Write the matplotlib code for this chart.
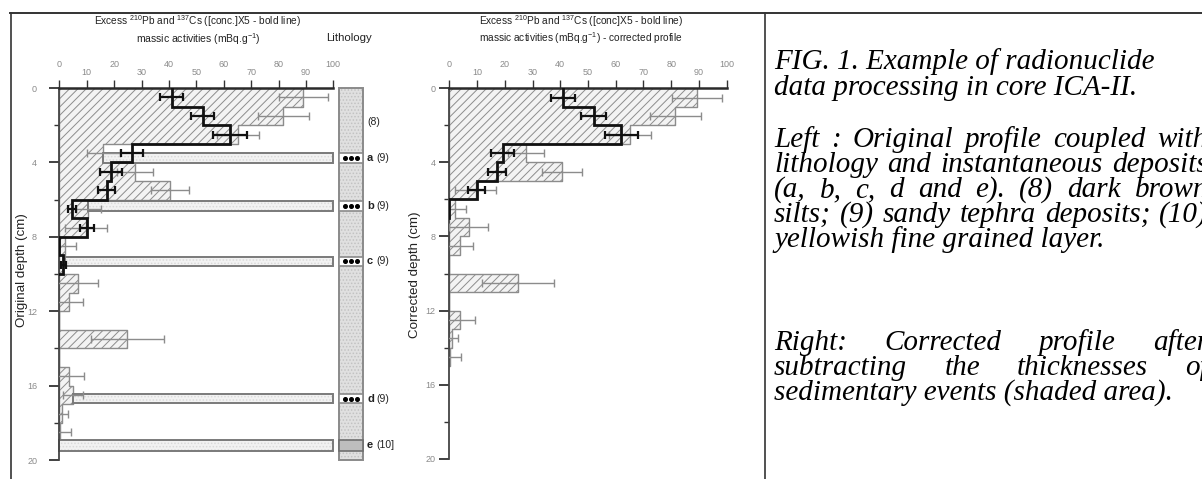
import numpy as np
import matplotlib
matplotlib.use("Agg")
import matplotlib.pyplot as plt
from matplotlib import font_manager
from matplotlib.patches import Rectangle

# ---- original profile (left panel), 1 cm slices from the core top
orig_top = np.arange(0, 19)
pb_orig = [89.0, 81.8, 65.3, 16.0, 27.6, 40.4, 10.6, 9.8, 2.0, 1.5,
           6.7, 3.7, 0.0, 24.8, 0.0, 3.7, 5.1, 0.9, 0.3]
pb_orig_err = [9.0, 9.3, 7.7, 6.0, 6.7, 7.1, 4.5, 7.6, 4.1, 0.0,
               7.4, 4.8, 0.0, 13.3, 0.0, 5.4, 3.7, 2.4, 3.9]
cs_orig_top = np.arange(0, 10)
cs_orig = [41.0, 52.3, 62.3, 26.4, 19.0, 17.3, 4.5, 10.0, 0.0, 1.5]
cs_orig_err = [4.2, 4.3, 6.1, 4.0, 4.0, 3.0, 1.5, 2.5, 0.0, 1.0]

# ---- instantaneous deposits (original depth, cm)
event_labels = ["a", "b", "c", "d", "e"]
event_units = ["(9)", "(9)", "(9)", "(9)", "(10]"]
event_top = [3.5, 6.05, 9.08, 16.45, 18.9]
event_bot = [4.05, 6.6, 9.55, 16.95, 19.5]
event_from = [16.0, 10.6, 2.0, 5.1, 0.0]

# ---- corrected profile (right panel)
corr_top = np.arange(0, 15)
pb_corr = [89.3, 81.5, 65.2, 27.7, 40.6, 9.5, 2.0, 7.0, 4.0, 0.0,
           24.9, 0.0, 4.0, 0.9, 0.3]
pb_corr_err = [9.0, 9.3, 7.5, 6.6, 7.2, 7.5, 4.0, 7.0, 4.5, 0.0,
               13.0, 0.0, 5.4, 2.4, 3.9]
cs_corr_top = np.arange(0, 7)
cs_corr = [41.0, 52.0, 62.0, 19.3, 17.1, 9.9, 0.0]
cs_corr_err = [4.2, 4.4, 6.0, 4.2, 3.3, 3.0, 0.0]

caption = [
    ("FIG. 1. Example of radionuclide", 62, False),
    ("data processing in core ICA-II.", 88, False),
    ("Left : Original profile coupled with", 140, True),
    ("lithology and instantaneous deposits", 165, True),
    ("(a, b, c, d and e). (8) dark brown", 190, True),
    ("silts; (9) sandy tephra deposits; (10)", 215, True),
    ("yellowish fine grained layer.", 240, False),
    ("Right:  Corrected  profile  after", 343, True),
    ("subtracting the thicknesses of", 368, True),
    ("sedimentary events (shaded area).", 393, False),
]

W, H = 1202, 479
names = {f.name for f in font_manager.fontManager.ttflist}
NARROW = "Liberation Sans Narrow" if "Liberation Sans Narrow" in names else "Liberation Sans"
SANS = ["Liberation Sans", "DejaVu Sans"]
plt.rcParams["font.family"] = [NARROW, "DejaVu Sans"]
plt.rcParams["mathtext.default"] = "regular"
plt.rcParams["hatch.linewidth"] = 0.7
plt.rcParams["hatch.color"] = "#8c8c8c"

fig = plt.figure(figsize=(W / 100, H / 100), dpi=100)
fig.patch.set_facecolor("white")


def fx(x):
    return x / W


def fy(y):
    return 1 - y / H


def px_axes(x0, y0, x1, y1):
    return fig.add_axes([x0 / W, 1 - y1 / H, (x1 - x0) / W, (y1 - y0) / H])


def steps(tops, vals):
    tops = np.asarray(tops, float)
    y = np.column_stack([tops, tops + 1]).ravel()
    x = np.repeat(np.asarray(vals, float), 2)
    return x, y


def stippled(ax, xy, w, h, face, dots, edge, lw, z=2):
    # flat fill with a faint dotted texture, then the outline on top
    ax.add_patch(Rectangle(xy, w, h, facecolor=face, edgecolor=dots, hatch=".....",
                           lw=0, zorder=z, clip_on=False))
    ax.add_patch(Rectangle(xy, w, h, facecolor="none", edgecolor=edge, lw=lw,
                           zorder=z, clip_on=False))


def profile(ax, pb_top, pb, pb_err, cs_top, cs, cs_err, ypad):
    ax.set_xlim(0, 100)
    ax.set_ylim(20, 0)
    for s in ["right", "bottom"]:
        ax.spines[s].set_visible(False)
    ax.spines["top"].set_linewidth(1.8)
    ax.spines["top"].set_color("#2a2a2a")
    ax.spines["left"].set_linewidth(1.3)
    ax.spines["left"].set_color("#444444")
    ax.xaxis.tick_top()
    ax.set_xticks(np.arange(0, 101, 20))
    ax.set_xticks(np.arange(10, 100, 20), minor=True)
    ax.set_xticklabels([str(v) for v in range(0, 101, 20)])
    ax.set_xticklabels([str(v) for v in range(10, 100, 20)], minor=True)
    ax.set_yticks(np.arange(0, 21, 4))
    ax.set_yticks(np.arange(2, 20, 4), minor=True)
    ax.tick_params(axis="x", which="major", length=5.5, width=1, pad=8.5,
                   labelsize=6.5, labelcolor="#8a8a8a", color="#333333")
    ax.tick_params(axis="x", which="minor", length=5.5, width=1, pad=2.5,
                   labelsize=6.5, labelcolor="#8a8a8a", color="#333333")
    ax.tick_params(axis="y", which="major", length=7, width=1.3, pad=ypad,
                   labelsize=6.5, labelcolor="#8a8a8a", color="#333333")
    ax.tick_params(axis="y", which="minor", length=3.5, width=1, color="#333333")

    x, y = steps(pb_top, pb)
    ax.fill_betweenx(y, 0, x, facecolor="#f3f3f3", edgecolor="#8c8c8c",
                     hatch="////", linewidth=1, zorder=1)

    pb_top = np.asarray(pb_top, float)
    pb = np.asarray(pb)
    pb_err = np.asarray(pb_err)
    m = pb_err > 0
    ax.errorbar(pb[m], pb_top[m] + 0.5, xerr=pb_err[m], fmt="none",
                ecolor="#8c8c8c", elinewidth=1, capsize=3, capthick=1, zorder=3)

    x, y = steps(cs_top, cs)
    x = np.append(x, 0)
    y = np.append(y, y[-1])
    ax.plot(x, y, color="#111111", lw=2, zorder=4, solid_joinstyle="miter")
    cs_top = np.asarray(cs_top, float)
    cs = np.asarray(cs)
    cs_err = np.asarray(cs_err)
    m = cs_err > 0
    ax.errorbar(cs[m], cs_top[m] + 0.5, xerr=cs_err[m], fmt="none",
                ecolor="#111111", elinewidth=1.6, capsize=3, capthick=1.6, zorder=5)


# ---- left panel: original profile
ax_l = px_axes(59.3, 88, 333.3, 460)
profile(ax_l, orig_top, pb_orig, pb_orig_err, cs_orig_top, cs_orig, cs_orig_err, 9)
for t, b, x0 in zip(event_top, event_bot, event_from):
    stippled(ax_l, (x0, t), 100 - x0, b - t, "#f2f2f2", "#dadada", "#7a7a7a", 1.4)

# ---- lithology column
ax_c = px_axes(339, 88, 363, 460)
ax_c.set_xlim(0, 1)
ax_c.set_ylim(20, 0)
ax_c.axis("off")
stippled(ax_c, (0, 0), 1, 20, "#e0e0e0", "#c2c2c2", "#8a8a8a", 1.4, z=1)
for lab, unit, t, b in zip(event_labels, event_units, event_top, event_bot):
    mid = (t + b) / 2
    if lab == "e":
        ax_c.add_patch(Rectangle((0, t), 1, b - t, facecolor="#bdbdbd",
                                 edgecolor="#6f6f6f", lw=1.2, clip_on=False))
    else:
        ax_c.add_patch(Rectangle((0, t), 1, b - t, facecolor="white",
                                 edgecolor="#8a8a8a", lw=1.2, clip_on=False))
        ax_c.plot([0.25, 0.5, 0.75], [mid] * 3, "o", color="black", ms=2.6,
                  clip_on=False)
    ax_c.text(1.17, mid, lab, fontsize=8, fontweight="bold", va="center",
              ha="left", family=SANS, color="#222222")
    ax_c.text(1.55, mid, unit, fontsize=7.5, va="center", ha="left",
              family=SANS, color="#222222")
ax_c.text(1.17, 1.85, "(8)", fontsize=7.5, va="center", ha="left",
          family=SANS, color="#222222")

# ---- right panel: corrected profile
ax_r = px_axes(449.3, 88.3, 726.7, 458.7)
profile(ax_r, corr_top, pb_corr, pb_corr_err, cs_corr_top, cs_corr, cs_corr_err, 3)

# ---- titles and axis labels
tcol = "#222222"
fig.text(fx(198), fy(21), r"Excess $^{210}$Pb and $^{137}$Cs ([conc.]X5 - bold line)",
         ha="center", va="center", fontsize=7.3, color=tcol)
fig.text(fx(198), fy(39), r"massic activities (mBq.g$^{-1}$)",
         ha="center", va="center", fontsize=7.5, color=tcol)
fig.text(fx(349), fy(38), "Lithology", ha="center", va="center", fontsize=8.2,
         color=tcol)
fig.text(fx(581), fy(21), r"Excess $^{210}$Pb and $^{137}$Cs ([conc]X5 - bold line)",
         ha="center", va="center", fontsize=7.3, color=tcol)
fig.text(fx(581), fy(38), r"massic activities (mBq.g$^{-1}$) - corrected profile",
         ha="center", va="center", fontsize=7.3, color=tcol)
fig.text(fx(22), fy(270), "Original depth (cm)", rotation=90, ha="center",
         va="center", fontsize=9.6, color=tcol, family=SANS)
fig.text(fx(415), fy(275), "Corrected depth (cm)", rotation=90, ha="center",
         va="center", fontsize=9.6, color=tcol, family=SANS)

# ---- frame of the table cell
fcol = "#333333"
fig.add_artist(plt.Line2D([fx(10), fx(W)], [fy(13), fy(13)], color=fcol, lw=1.4))
fig.add_artist(plt.Line2D([fx(11), fx(11)], [fy(13), fy(H + 2)], color=fcol, lw=1.2))
fig.add_artist(plt.Line2D([fx(765), fx(765)], [fy(13), fy(H + 2)], color=fcol, lw=1.2))

# ---- caption, justified like the source document
cap_style = dict(family=["Liberation Serif", "DejaVu Serif"], style="italic",
                 color="black", va="center", ha="left")
r = fig.canvas.get_renderer()
probe = fig.text(0, 0, caption[0][0], fontsize=17, **cap_style)
cap_size = 17 * 381 / probe.get_window_extent(r).width
probe.remove()
left, right = 774, 1208
for line, y, just in caption:
    if not just:
        fig.text(fx(left), fy(y), line, fontsize=cap_size, **cap_style)
        continue
    words = line.split()
    objs = [fig.text(0, fy(y), w, fontsize=cap_size, **cap_style) for w in words]
    widths = [o.get_window_extent(r).width for o in objs]
    gap = (right - left - sum(widths)) / (len(words) - 1)
    x = left
    for o, w in zip(objs, widths):
        o.set_x(fx(x))
        x += w + gap

fig.savefig("out.png", dpi=100, facecolor="white")
